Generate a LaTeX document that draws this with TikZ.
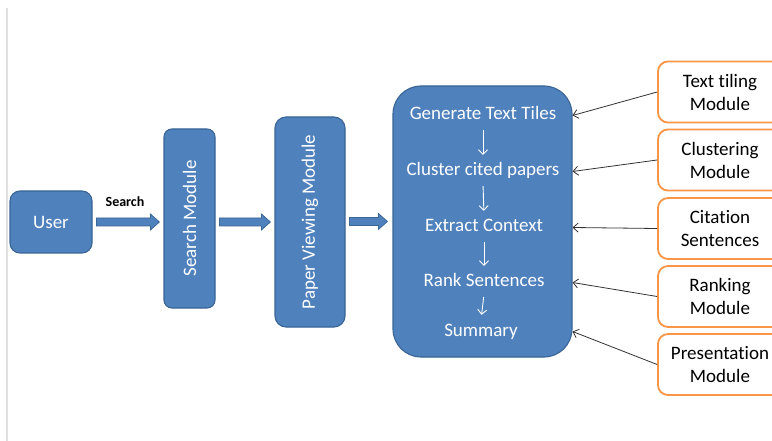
\documentclass[tikz,border=0pt]{standalone}
\usepackage{fontspec}
\setmainfont{Carlito}[Ligatures=NoCommon]
\usepackage{graphicx}
\usetikzlibrary{calc,arrows.meta}
\definecolor{bfill}{HTML}{4F81BD}
\definecolor{bdraw}{HTML}{3A6595}
\definecolor{obox}{HTML}{F79646}
\newcommand\blockarrow[2]{%
  \filldraw[barrow] let \p1=(#1), \p2=(#2) in
  (\x1,\y1+4pt) -- (\x2-9pt,\y1+4pt) -- (\x2-9pt,\y1+8pt) -- (\x2,\y1)
  -- (\x2-9pt,\y1-8pt) -- (\x2-9pt,\y1-4pt) -- (\x1,\y1-4pt) -- cycle;}
\begin{document}
\begin{tikzpicture}[x=1pt,y=-1pt,
  bluebox/.style={draw=bdraw, line width=1.1pt, fill=bfill, text=white,
    font=\fontsize{19}{23}\selectfont, inner sep=0pt, align=center},
  wtext/.style={text=white, font=\fontsize{19}{23}\selectfont, inner sep=2pt,
    text height=14pt, text depth=5pt, anchor=base},
  orbox/.style={draw=obox, line width=1.8pt, fill=white, rounded corners=10pt,
    minimum width=124pt, minimum height=61pt, inner sep=0pt, align=center,
    text=black, font=\fontsize{19}{23}\selectfont},
  barrow/.style={fill=bfill, draw=bdraw, line width=0.7pt},
  warrow/.style={draw=white, line width=0.9pt, -{Straight Barb[length=4.5pt,width=9pt]},
    shorten <=3pt, shorten >=5pt},
  garrow/.style={draw=black!80, line width=0.8pt, -{Straight Barb[length=5pt,width=9pt]}}]
\useasboundingbox (0,0) rectangle (772,441);
\clip (0,0) rectangle (772,441);
\fill[white] (0,0) rectangle (772,441);
\draw[line width=1.5pt, black!12] (7,8) -- (7,441);

\node[bluebox, minimum width=82pt, minimum height=62pt, rounded corners=10pt] (user) at (51,222) {User};
\node[bluebox, minimum width=51pt, minimum height=179pt, rounded corners=8pt] (search) at (189.5,218.5) {\rotatebox{90}{Search Module}};
\node[bluebox, minimum width=70pt, minimum height=210pt, rounded corners=11pt] (paper) at (310,222) {\rotatebox{90}{Paper Viewing Module}};
\node[bluebox, minimum width=179pt, minimum height=271pt, rounded corners=28pt] (main) at (482.5,221.5) {};

\node[wtext] (t1) at (483,120) {Generate Text Tiles};
\node[wtext] (t2) at (483,176) {Cluster cited papers};
\node[wtext] (t3) at (484,232) {Extract Context};
\node[wtext] (t4) at (484,287) {Rank Sentences};
\node[wtext] (t5) at (481,336) {Summary};
\draw[warrow] (t1.south) -- (t2.north);
\draw[warrow] (t2.south) -- (t3.north);
\draw[warrow] (t3.south) -- (t4.north);
\draw[warrow] (t4.south) -- (t5.north);

\coordinate (a1s) at ($(user.east)+(4,0)$);
\coordinate (a1e) at ($(search.west)+(-4,0)$);
\coordinate (a2s) at ($(search.east |- paper.west)+(4,0)$);
\coordinate (a2e) at ($(paper.west)+(-4,0)$);
\coordinate (a3s) at ($(paper.east |- main.west)+(4,0)$);
\coordinate (a3e) at ($(main.west)+(-5,0)$);
\blockarrow{a1s}{a1e}
\blockarrow{a2s}{a2e}
\blockarrow{a3s}{a3e}
\node[font=\fontsize{14}{16}\selectfont\bfseries, anchor=base, text=black] (lbl) at (125,207) {Search};

\node[orbox] (o1) at (720,92) {Text tiling\\Module};
\node[orbox] (o2) at (720,160) {Clustering\\Module};
\node[orbox] (o3) at (720,228.5) {Citation\\Sentences};
\node[orbox] (o4) at (720,296.5) {Ranking\\Module};
\node[orbox] (o5) at (720,364.5) {Presentation\\Module};

\draw[garrow] (o1.west) -- (t1 -| main.east);
\draw[garrow] (o2.west) -- (t2 -| main.east);
\draw[garrow] (o3.west) -- (t3 -| main.east);
\draw[garrow] (o4.west) -- (t4 -| main.east);
\draw[garrow] (o5.west) -- (t5 -| main.east);
\end{tikzpicture}
\end{document}
